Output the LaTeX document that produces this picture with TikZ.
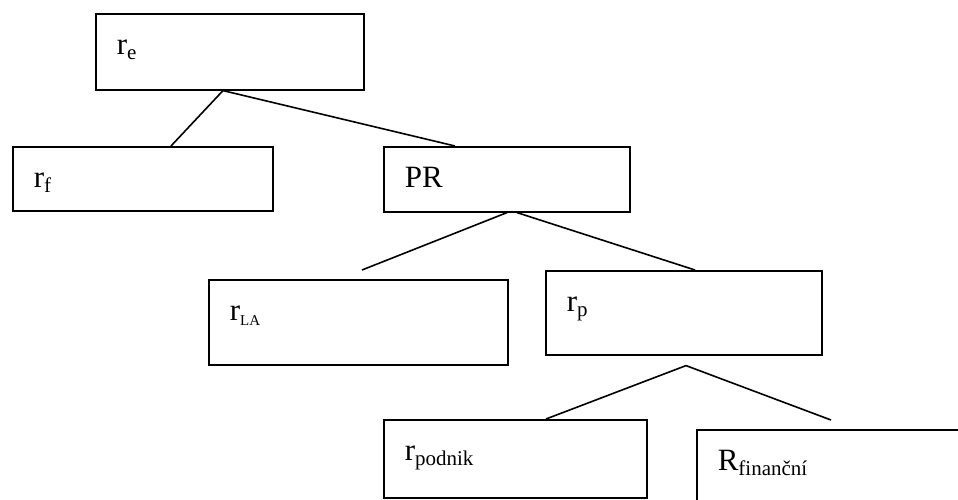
\documentclass[tikz,border=0pt]{standalone}
\usepackage{fontspec}
\setmainfont{Liberation Serif}
\newcommand{\subidx}[2][21]{\raisebox{-5pt}{\fontsize{#1}{#1}\selectfont #2}}

\begin{document}
\begin{tikzpicture}[
        x = 1pt, y = -1pt,
        line width = 1.6pt,
        box/.style = {draw, anchor = north west, align = left, inner xsep = 21pt, inner ysep = 0pt, text height = 41pt, font = \fontsize{31}{33}\selectfont}
    ]
        \useasboundingbox (0,0) rectangle (958,500);
        \node[box, text width = 226pt, text depth = 35pt] (re) at (95,13) {r\subidx{e}};
        \node[box, text width = 218pt, text depth = 23pt] (rf) at (12,146) {r\subidx{f}};
        \node[box, text width = 204pt, text depth = 24pt] (pr) at (383,146) {PR};
        \node[box, text width = 257pt, text depth = 44pt] (rla) at (208,279) {r\subidx[15]{LA}};
        \node[box, text width = 234pt, text depth = 43pt] (rp) at (545,270) {r\subidx{p}};
        \node[box, text width = 221pt, text depth = 37pt] (rpod) at (383,419) {r\subidx{podnik}};
        \node[box, text width = 258pt, text depth = 59pt] (rfin) at (696,429) {R\subidx{finanční}};
        \draw ([xshift = 128pt]re.south west) -- ([xshift = 159pt]rf.north west);
        \draw ([xshift = 128pt]re.south west) -- ([xshift = 72pt]pr.north west);
        \draw ([xshift = 124pt]pr.south west) -- ([xshift = 154pt, yshift = 9pt]rla.north west);
        \draw ([xshift = 134pt]pr.south west) -- ([xshift = 150pt]rp.north west);
        \draw ([xshift = 141pt, yshift = -10pt]rp.south west) -- ([xshift = 163pt]rpod.north west);
        \draw ([xshift = 141pt, yshift = -10pt]rp.south west) -- ([xshift = 135pt, yshift = 9pt]rfin.north west);
    \end{tikzpicture}
\end{document}
